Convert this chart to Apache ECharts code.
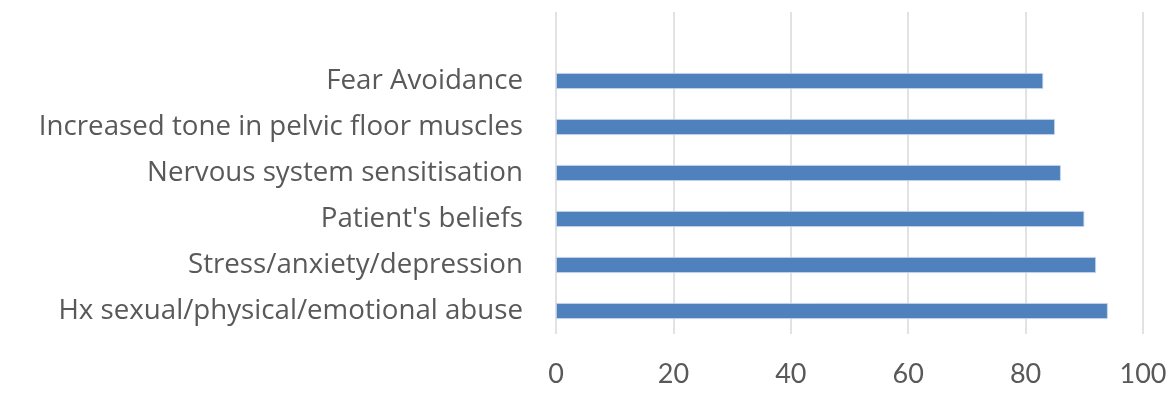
<!DOCTYPE html>
<html>
<head>
<meta charset="utf-8">
<script src="https://cdn.jsdelivr.net/npm/echarts@6/dist/echarts.min.js"></script>
<style>
html,body{margin:0;padding:0;background:#fff;}
#chart{width:1172px;height:394px;}
</style>
</head>
<body>
<div id="chart"></div>
<script>
// Categories listed bottom to top; the last (empty) slot is the blank row at the top of the plot
const categories = [
  'Hx sexual/physical/emotional abuse',
  'Stress/anxiety/depression',
  "Patient's beliefs",
  'Nervous system sensitisation',
  'Increased tone in pelvic floor muscles',
  'Fear Avoidance',
  ''
];
const values = [94, 92, 90, 86, 85, 83, null];
const xTicks = { min: 0, max: 100, interval: 20 };

const chart = echarts.init(document.getElementById('chart'));
chart.setOption({
  animation: false,
  backgroundColor: '#ffffff',
  grid: { left: 556, right: 29, top: 12, bottom: 60, containLabel: false },
  xAxis: {
    type: 'value',
    min: xTicks.min,
    max: xTicks.max,
    interval: xTicks.interval,
    axisLine: { show: false },
    axisTick: { show: false },
    splitLine: { show: true, lineStyle: { color: '#d9d9d9', width: 1.5 } },
    axisLabel: { color: '#595959', fontSize: 27, fontFamily: 'Lato', margin: 27 }
  },
  yAxis: {
    type: 'category',
    data: categories,
    axisLine: { show: false },
    axisTick: { show: false },
    splitLine: { show: false },
    axisLabel: { color: '#595959', fontSize: 27.7, fontFamily: 'Open Sans', margin: 33 }
  },
  series: [{
    type: 'bar',
    data: values,
    barWidth: 16,
    itemStyle: { color: '#4f81bd', borderColor: '#c9d8ec', borderWidth: 0.8 }
  }]
});
</script>
</body>
</html>
